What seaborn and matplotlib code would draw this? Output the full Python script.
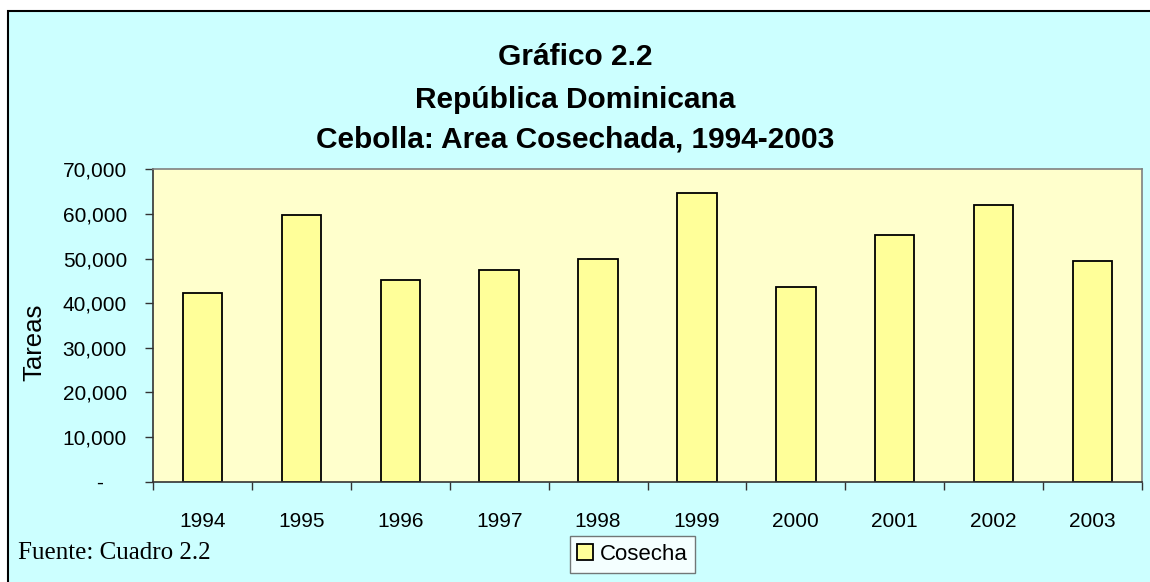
import numpy as np
import pandas as pd
import seaborn as sns
import matplotlib.pyplot as plt
from matplotlib.patches import Rectangle, Patch
from matplotlib.ticker import FuncFormatter

# Data
years = ["1994", "1995", "1996", "1997", "1998", "1999", "2000", "2001", "2002", "2003"]
tareas = [42300, 59800, 45100, 47500, 49800, 64700, 43600, 55300, 62000, 49400]
series_name = "Cosecha"

title_lines = ["Gráfico 2.2", "República Dominicana", "Cebolla: Area Cosechada, 1994-2003"]
source_note = "Fuente: Cuadro 2.2"

df = pd.DataFrame({"Año": years, "Tareas": tareas})

sns.set_theme(style="white")
plt.rcParams["font.family"] = ["Liberation Sans", "DejaVu Sans"]
plt.rcParams["text.color"] = "black"
plt.rcParams["xtick.color"] = "black"
plt.rcParams["ytick.color"] = "black"

fig = plt.figure(figsize=(11.5, 5.82), dpi=100)
fig.patch.set_facecolor("white")

# chart area with black frame (cropped on right/bottom like the source)
fig.patches.append(Rectangle((8 / 1150, -0.02), 1.05, 1 - 11 / 582 + 0.02,
                             transform=fig.transFigure, facecolor="#CCFFFF",
                             edgecolor="black", linewidth=1.5, zorder=-5))

ax = fig.add_axes([153.3 / 1150, 0.1723, (1141.7 - 153.3) / 1150, 0.7091 - 0.1723])
ax.set_zorder(2)
ax.set_facecolor("#FFFFCC")

sns.barplot(data=df, x="Año", y="Tareas", color="#FFFF99", saturation=1,
            edgecolor="black", linewidth=1.3, width=0.4, ax=ax)

ax.set_xlim(-0.5, len(years) - 0.5)
ax.set_ylim(0, 70000)
ax.set_yticks(np.arange(0, 70001, 10000))
ax.yaxis.set_major_formatter(FuncFormatter(lambda v, p: "-    " if v == 0 else f"{int(v):,}"))

ax.set_xticks(np.arange(-0.5, len(years), 1), minor=True)
ax.tick_params(axis="x", which="major", length=0, pad=22, labelsize=15, labelcolor="black")
ax.tick_params(axis="x", which="minor", length=6, width=1, color="#333333", direction="out", bottom=True)
ax.tick_params(axis="y", which="major", length=6, width=1, color="#333333", direction="out",
               left=True, pad=13, labelsize=15, labelcolor="black")

for side in ["left", "bottom"]:
    ax.spines[side].set_color("#333333")
    ax.spines[side].set_linewidth(1.2)
for side in ["top", "right"]:
    ax.spines[side].set_color("#808080")
    ax.spines[side].set_linewidth(1.2)

ax.set_xlabel("")
ax.set_ylabel("")
fig.text(0.030, 0.411, "Tareas", rotation=90, fontsize=18.5, ha="center", va="center", color="black")

title_y = [57, 100, 140]
for line, yy in zip(title_lines, title_y):
    fig.text(0.5, 1 - yy / 582, line, fontsize=21.5, fontweight="bold", ha="center", va="center",
             color="black")

fig.text(18 / 1150, 1 - 553 / 582, source_note, fontsize=18, ha="left", va="center", color="black",
         family=["Liberation Serif", "DejaVu Serif"])

handle = Patch(facecolor="#FFFF99", edgecolor="black", linewidth=1.3, label=series_name)
leg = fig.legend(handles=[handle], loc="center", bbox_to_anchor=(632.5 / 1150, 1 - 554.5 / 582),
                 fontsize=16, frameon=True, fancybox=False, handlelength=0.7, handleheight=0.7,
                 handletextpad=0.3, borderpad=0.35, borderaxespad=0, labelcolor="black")
leg.get_frame().set_edgecolor("#555555")
leg.get_frame().set_linewidth(1)
leg.get_frame().set_facecolor("white")

plt.savefig("out.png", dpi=100, facecolor=fig.get_facecolor())
